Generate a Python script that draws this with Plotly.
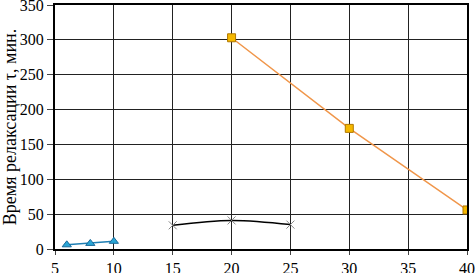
import plotly.graph_objects as go

x_blue = [6, 8, 10]
y_blue = [6, 8, 11]
x_black = [15, 20, 25]
y_black = [34, 41, 35]
x_orange = [20, 30, 40]
y_orange = [303, 173, 56]

x_ticks = [5, 10, 15, 20, 25, 30, 35, 40]
y_ticks = [0, 50, 100, 150, 200, 250, 300, 350]

fig = go.Figure()
fig.add_trace(go.Scatter(x=x_blue, y=y_blue, mode="lines+markers",
                         line=dict(color="#1f7fb4", width=1.5),
                         marker=dict(symbol="triangle-up", size=8, color="#2aa6d6",
                                     line=dict(color="#1a6a9a", width=1))))
fig.add_trace(go.Scatter(x=x_black, y=y_black, mode="lines+markers",
                         line=dict(color="black", width=1.5, shape="spline"),
                         marker=dict(symbol="x-thin", size=8, color="#888",
                                     line=dict(color="#888", width=1))))
fig.add_trace(go.Scatter(x=x_orange, y=y_orange, mode="lines+markers",
                         line=dict(color="#f0964a", width=1.5),
                         marker=dict(symbol="square", size=8, color="#f5b800",
                                     line=dict(color="#b07800", width=1))))

font = dict(family="'Liberation Serif', 'Times New Roman', serif", size=16, color="black")
title_font = dict(family="'Liberation Serif', 'Times New Roman', serif", size=18, color="black")
fig.update_layout(
    width=476, height=273,
    margin=dict(l=55, r=9, t=5, b=24, autoexpand=False),
    paper_bgcolor="white", plot_bgcolor="white",
    showlegend=False,
    font=font,
    xaxis=dict(range=[5, 40], tickvals=x_ticks, showgrid=True, gridcolor="#222",
               gridwidth=1, showline=True, linecolor="black", linewidth=2, mirror=True,
               zeroline=False, ticks="outside", ticklen=4, tickcolor="#444",
               tickfont=font, ticklabeloverflow="allow", automargin=False),
    yaxis=dict(range=[0, 350], tickvals=y_ticks, showgrid=True, gridcolor="#222",
               gridwidth=1, showline=True, linecolor="black", linewidth=2, mirror=True,
               zeroline=False, ticks="outside", ticklen=6, tickcolor="#444",
               tickfont=font, ticklabeloverflow="allow", automargin=False,
               title=dict(text="Время релаксации τ, мин.", font=title_font, standoff=3)),
)
fig.write_html("out.html", config={"displayModeBar": False},
               post_script="document.body.style.margin='0';document.body.style.overflow='hidden';")
